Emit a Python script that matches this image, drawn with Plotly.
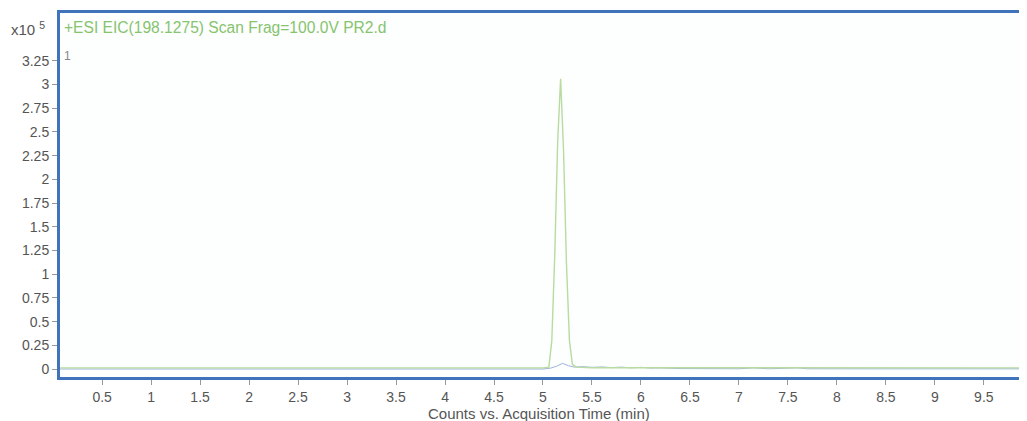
import plotly.graph_objects as go

# Green EIC trace (counts x10^5 vs time, min)
green_t = [0.07, 0.5, 1.0, 1.5, 2.0, 2.5, 3.0, 3.5, 4.0, 4.5, 5.0, 5.06, 5.09, 5.12, 5.15, 5.18, 5.21, 5.24, 5.27, 5.30, 5.34, 5.5, 6.0, 6.5, 7.0, 7.5, 8.0, 8.5, 9.0, 9.5, 9.92]
green_y = [0.012, 0.012, 0.012, 0.012, 0.012, 0.012, 0.012, 0.012, 0.012, 0.012, 0.012, 0.02, 0.3, 1.2, 2.4, 3.06, 2.3, 1.1, 0.3, 0.05, 0.02, 0.014, 0.013, 0.012, 0.012, 0.012, 0.012, 0.012, 0.012, 0.012, 0.012]

# Blue trace
blue_t = [0.07, 1.0, 2.0, 3.0, 4.0, 5.0, 5.08, 5.14, 5.2, 5.26, 5.32, 5.4, 5.5, 5.6, 5.7, 5.8, 5.9, 6.0, 6.1, 6.2, 6.4, 7.0, 7.15, 7.3, 7.6, 7.7, 8.5, 9.92]
blue_y = [0.0, 0.0, 0.0, 0.0, 0.0, 0.0, 0.01, 0.03, 0.06, 0.035, 0.02, 0.025, 0.018, 0.022, 0.015, 0.02, 0.012, 0.018, 0.01, 0.012, 0.005, 0.003, 0.012, 0.003, 0.012, 0.003, 0.002, 0.002]

x_ticks = [0.5, 1, 1.5, 2, 2.5, 3, 3.5, 4, 4.5, 5, 5.5, 6, 6.5, 7, 7.5, 8, 8.5, 9, 9.5]
x_tick_labels = ["0.5", "1", "1.5", "2", "2.5", "3", "3.5", "4", "4.5", "5", "5.5", "6", "6.5", "7", "7.5", "8", "8.5", "9", "9.5"]
y_ticks = [0, 0.25, 0.5, 0.75, 1, 1.25, 1.5, 1.75, 2, 2.25, 2.5, 2.75, 3, 3.25]
y_tick_labels = ["0", "0.25", "0.5", "0.75", "1", "1.25", "1.5", "1.75", "2", "2.25", "2.5", "2.75", "3", "3.25"]

title_text = "+ESI EIC(198.1275) Scan Frag=100.0V PR2.d"
x_title = "Counts vs. Acquisition Time (min)"

fig = go.Figure()
fig.add_trace(go.Scatter(x=blue_t, y=blue_y, mode="lines",
                         line=dict(color="#9fb4dc", width=1), showlegend=False))
fig.add_trace(go.Scatter(x=green_t, y=green_y, mode="lines",
                         line=dict(color="#b8dba0", width=1.4), showlegend=False))

FAM = "Liberation Sans, Arial, sans-serif"
tickfont = dict(family=FAM, size=14, color="#555555")

# plot area: 52..1017 wide, 5..369 tall (page body adds an 8px offset)
fig.update_layout(
    width=1027, height=421,
    margin=dict(l=52, r=10, t=5, b=52),
    paper_bgcolor="white", plot_bgcolor="#fdfefe",
    font=tickfont,
    xaxis=dict(range=[0.07, 9.92], tickvals=x_ticks, ticktext=x_tick_labels,
               showgrid=False, zeroline=False, showline=True, mirror=True,
               linecolor="#3f74ba", linewidth=3, ticks="outside", ticklen=5,
               tickcolor="#999999", tickfont=tickfont, automargin=False),
    yaxis=dict(range=[-0.084, 3.755], tickvals=y_ticks, ticktext=y_tick_labels,
               showgrid=False, zeroline=False, showline=True, mirror=True,
               linecolor="#3f74ba", linewidth=3, ticks="outside", ticklen=5,
               tickcolor="#999999", tickfont=tickfont, automargin=False),
    annotations=[
        dict(text=title_text, xref="paper", yref="paper", x=0.002, y=0.99,
             xanchor="left", yanchor="top", showarrow=False,
             font=dict(family=FAM, size=15.6, color="#86c46e")),
        dict(text="x10 <sup>5</sup>", xref="paper", yref="paper", x=-0.053, y=0.99,
             xanchor="left", yanchor="top", showarrow=False,
             font=dict(family=FAM, size=15, color="#555555")),
        dict(text="1", xref="paper", yref="y", x=0.002, y=3.3,
             xanchor="left", yanchor="middle", showarrow=False,
             font=dict(family=FAM, size=12, color="#888888")),
        dict(text=x_title, xref="paper", yref="paper", x=0.496, y=-0.099,
             xanchor="center", yanchor="middle", showarrow=False,
             font=dict(family=FAM, size=15, color="#555555")),
    ],
)

fig.write_html("out.html")
